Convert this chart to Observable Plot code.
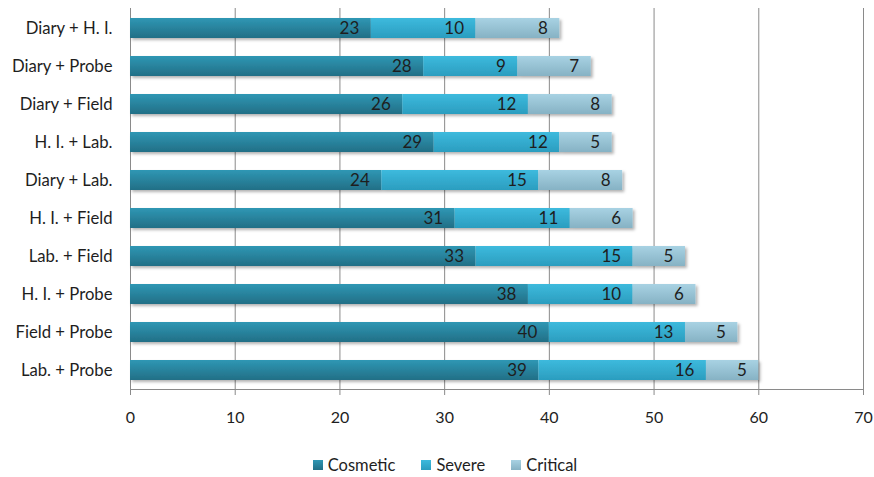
<!DOCTYPE html>
<html>
<head>
<meta charset="utf-8">
<script src="https://cdn.jsdelivr.net/npm/d3@7"></script>
<script src="https://cdn.jsdelivr.net/npm/@observablehq/plot@0.6"></script>
<style>
  html, body { margin: 0; padding: 0; background: #fff; }
  #chart { width: 874px; font-family: Lato, "Open Sans", sans-serif; color: #1e1e1e; }
  .legend { display: flex; justify-content: center; align-items: center; gap: 26px; height: 37px; padding-top: 12px; font-size: 16.5px; padding-left: 16px; box-sizing: border-box; }
  .legend span.item { display: inline-flex; align-items: center; gap: 5px; }
  .legend span.sw { display: inline-block; width: 10px; height: 10px; }
</style>
</head>
<body>
<div id="chart"></div>
<script>
// Test-method combinations, top row first
const categories = [
  "Diary + H. I.", "Diary + Probe", "Diary + Field", "H. I. + Lab.", "Diary + Lab.",
  "H. I. + Field", "Lab. + Field", "H. I. + Probe", "Field + Probe", "Lab. + Probe"
];
const series = ["Cosmetic", "Severe", "Critical"];
const cosmetic = [23, 28, 26, 29, 24, 31, 33, 38, 40, 39];
const severe   = [10,  9, 12, 12, 15, 11, 15, 10, 13, 16];
const critical = [ 8,  7,  8,  5,  8,  6,  5,  6,  5,  5];
const xTicks = [0, 10, 20, 30, 40, 50, 60, 70];

// Gradient stops (top, bottom) for each series
const shades = {
  Cosmetic: ["#2f97b4", "#226f86"],
  Severe:   ["#3dbadd", "#2b9dbf"],
  Critical: ["#a8d2e3", "#86b2c4"]
};
const gradId = s => "grad-" + s.toLowerCase();

const seriesValues = [cosmetic, severe, critical];
const rows = categories.flatMap((c, i) =>
  series.map((s, j) => ({category: c, series: s, value: seriesValues[j][i]}))
);

const chart = Plot.plot({
  width: 874,
  height: 440,
  marginTop: 8,
  marginBottom: 51,
  marginLeft: 130,
  marginRight: 11,
  style: {fontFamily: "Lato, 'Open Sans', sans-serif", fontSize: "15px", color: "#1e1e1e", background: "#fff"},
  x: {domain: [0, 70], ticks: xTicks},
  y: {domain: categories, paddingInner: 0.48, paddingOuter: 0.24},
  color: {domain: series, range: series.map(s => `url(#${gradId(s)})`)},
  marks: [
    Plot.ruleX(xTicks, {stroke: "#8a8a8a", strokeWidth: 1}),
    Plot.frame({anchor: "bottom", stroke: "#8a8a8a"}),
    Plot.axisX({ticks: xTicks, tickSize: 6, tickPadding: 16, stroke: "#8a8a8a", fontSize: 16, label: null}),
    Plot.axisY({tickSize: 0, tickPadding: 18, fontSize: 16.7, label: null}),
    Plot.barX(rows, Plot.stackX({
      x: "value", y: "category", fill: "series", z: "series"
    })),
    Plot.text(rows, Plot.stackX2({
      x: "value", y: "category", z: "series", text: "value",
      textAnchor: "end", dx: -12, fill: "#1e1e1e", fontSize: 17
    }))
  ]
});

// Gradients and a soft drop shadow for the bar segments
const svg = d3.select(chart);
const defs = svg.insert("defs", ":first-child");
series.forEach(s => {
  const g = defs.append("linearGradient").attr("id", gradId(s))
    .attr("x1", 0).attr("y1", 0).attr("x2", 0).attr("y2", 1);
  g.append("stop").attr("offset", "0%").attr("stop-color", shades[s][0]);
  g.append("stop").attr("offset", "100%").attr("stop-color", shades[s][1]);
});
defs.append("filter").attr("id", "bar-shadow")
  .attr("x", "-5%").attr("y", "-20%").attr("width", "115%").attr("height", "160%")
  .append("feDropShadow")
  .attr("dx", 2).attr("dy", 2).attr("stdDeviation", 1.4)
  .attr("flood-color", "#000").attr("flood-opacity", 0.3);
svg.selectAll("g[aria-label='bar']").attr("filter", "url(#bar-shadow)");

const root = document.getElementById("chart");
root.appendChild(chart);

// Legend row below the plot
const legend = document.createElement("div");
legend.className = "legend";
series.forEach(s => {
  const item = document.createElement("span");
  item.className = "item";
  const sw = document.createElement("span");
  sw.className = "sw";
  sw.style.background = `linear-gradient(${shades[s][0]}, ${shades[s][1]})`;
  item.appendChild(sw);
  item.appendChild(document.createTextNode(s));
  legend.appendChild(item);
});
root.appendChild(legend);
</script>
</body>
</html>
